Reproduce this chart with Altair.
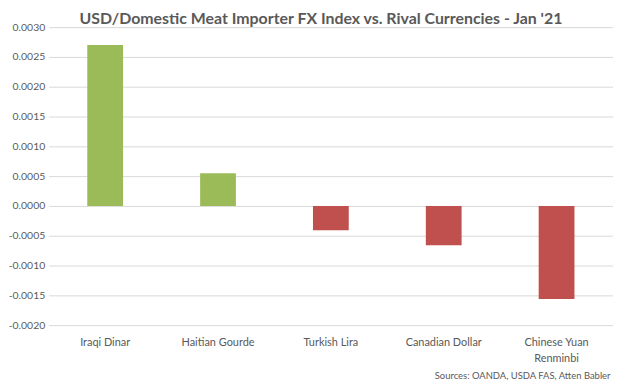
import altair as alt
import pandas as pd

categories = ["Iraqi Dinar", "Haitian Gourde", "Turkish Lira", "Canadian Dollar", "Chinese Yuan Renminbi"]
values = [0.0027, 0.00055, -0.00041, -0.00066, -0.00156]

df = pd.DataFrame({"currency": categories, "value": values})

FONT = "Lato"
GREY = "#595959"

chart = alt.Chart(df).mark_bar().encode(
    x=alt.X("currency:N", sort=categories,
            scale=alt.Scale(paddingInner=0.683, paddingOuter=0.3415),
            axis=alt.Axis(title="Sources: OANDA, USDA FAS, Atten Babler",
                          titleAnchor="end", titleAlign="right", titleFontWeight="normal",
                          titleFontSize=9.5, titleColor=GREY, titleFont=FONT,
                          titlePadding=7, titleX=565,
                          labelAngle=0, labelFontSize=11, labelColor=GREY, labelFont=FONT,
                          labelPadding=12, labelLineHeight=16,
                          labelExpr="datum.label == 'Chinese Yuan Renminbi' ? ['Chinese Yuan', 'Renminbi'] : datum.label",
                          ticks=False, domain=False, grid=False)),
    y=alt.Y("value:Q",
            scale=alt.Scale(domain=[-0.002, 0.003], nice=False),
            axis=alt.Axis(title=None, values=[-0.002, -0.0015, -0.001, -0.0005, 0, 0.0005, 0.001, 0.0015, 0.002, 0.0025, 0.003],
                          labelExpr="replace(format(datum.value, '.4f'), '\u2212', '-')",
                          labelFontSize=10.5, labelColor=GREY, labelFont=FONT, labelPadding=4,
                          ticks=False, domain=False, gridColor="#D9D9D9", gridWidth=1)),
    color=alt.condition("datum.value >= 0", alt.value("#9BBB59"), alt.value("#C0504D")),
).properties(
    width=568, height=300,
    padding={"left": 0, "top": 2, "right": 0, "bottom": 0},
    title=alt.TitleParams("USD/Domestic Meat Importer FX Index vs. Rival Currencies - Jan '21",
                          font=FONT, fontSize=16, fontWeight="bold", color=GREY,
                          anchor="middle", dx=-10, offset=-5),
).configure_view(stroke=None)

chart.save("out.html", embed_options={"renderer": "svg", "actions": False})
